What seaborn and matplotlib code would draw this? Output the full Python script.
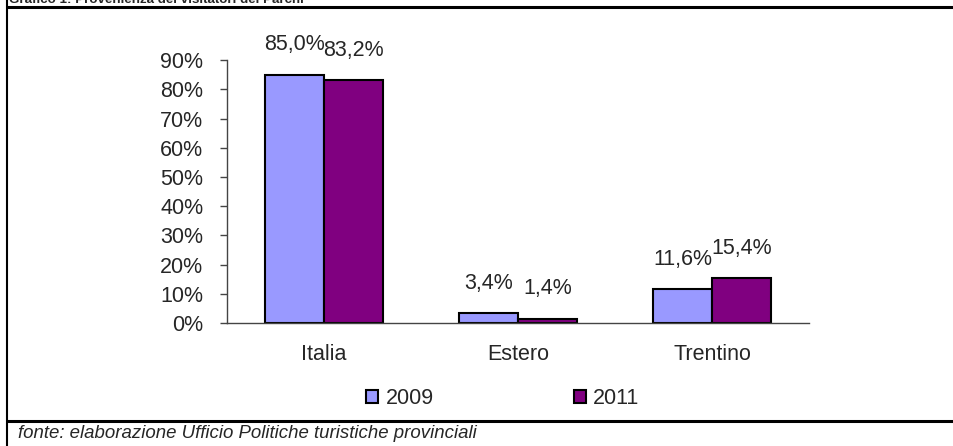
import pandas as pd
import matplotlib.pyplot as plt
from matplotlib.lines import Line2D
import seaborn as sns

# Provenienza dei visitatori (quote %)
categorie = ['Italia', 'Estero', 'Trentino']
anni = ['2009', '2011']
valori_2009 = [85.0, 3.4, 11.6]
valori_2011 = [83.2, 1.4, 15.4]
tick_y = [0, 10, 20, 30, 40, 50, 60, 70, 80, 90]

df = pd.DataFrame({
    'Provenienza': categorie * 2,
    'Anno': [anni[0]] * len(categorie) + [anni[1]] * len(categorie),
    'Quota': valori_2009 + valori_2011,
})

sns.set_style('white')
plt.rcParams['font.family'] = ['Liberation Sans', 'DejaVu Sans']

fig = plt.figure(figsize=(9.54, 4.46), dpi=100)
ax = fig.add_axes([0.238, 0.276, 0.61, 0.589])

sns.barplot(data=df, x='Provenienza', y='Quota', hue='Anno',
            palette=['#9999FF', '#800080'], width=0.61,
            edgecolor='black', linewidth=1.5, saturation=1, ax=ax)

# etichette dati con la virgola decimale
for cont, vals in zip(ax.containers, [valori_2009, valori_2011]):
    ax.bar_label(cont, labels=[f'{v:.1f}%'.replace('.', ',') for v in vals],
                 padding=14, fontsize=15.5)

ax.set_ylim(0, 90)
ax.set_xlim(-0.5, 2.5)
ax.set_yticks(tick_y)
ax.set_yticklabels([f'{t}%' for t in tick_y], fontsize=15.5)
ax.set_xticks(range(len(categorie)))
ax.set_xticklabels(categorie, fontsize=15.5)
ax.set_xticks([-0.5, 0.5, 1.5, 2.5], minor=True)
ax.tick_params(axis='x', which='major', length=0, pad=15)
ax.tick_params(axis='x', which='minor', length=5, width=1, direction='out', color='#444444')
ax.tick_params(axis='y', length=5, width=1, direction='out', color='#444444', left=True, pad=12)
ax.set_xlabel('')
ax.set_ylabel('')
sns.despine(ax=ax)
for s in ['left', 'bottom']:
    ax.spines[s].set_color('#444444')
    ax.spines[s].set_linewidth(1)

handles, labels = ax.get_legend_handles_labels()
ax.get_legend().remove()
fig.legend(handles, labels, loc='center', bbox_to_anchor=(0.527, 0.107), ncol=2,
           frameon=False, fontsize=15.5, handlelength=0.55, handleheight=0.55,
           handletextpad=0.35, columnspacing=6.5)

# cornice e titolo (tagliato in alto come nell'originale)
fig.add_artist(Line2D([7 / 954, 7 / 954], [0, 1], color='black', lw=1.5, transform=fig.transFigure))
fig.add_artist(Line2D([7 / 954, 1], [1 - 6.5 / 446] * 2, color='black', lw=2.2, transform=fig.transFigure))
fig.add_artist(Line2D([7 / 954, 1], [1 - 421 / 446] * 2, color='black', lw=2.2, transform=fig.transFigure))
fig.text(9 / 954, 1 - 3 / 446, 'Grafico 1: Provenienza dei visitatori dei Parchi',
         fontsize=9.6, fontweight='bold', va='baseline', ha='left')
fig.text(18 / 954, 1 - 433 / 446, 'fonte: elaborazione Ufficio Politiche turistiche provinciali',
         fontsize=13.4, style='italic', va='center', ha='left')

fig.savefig('out.png', dpi=100)
